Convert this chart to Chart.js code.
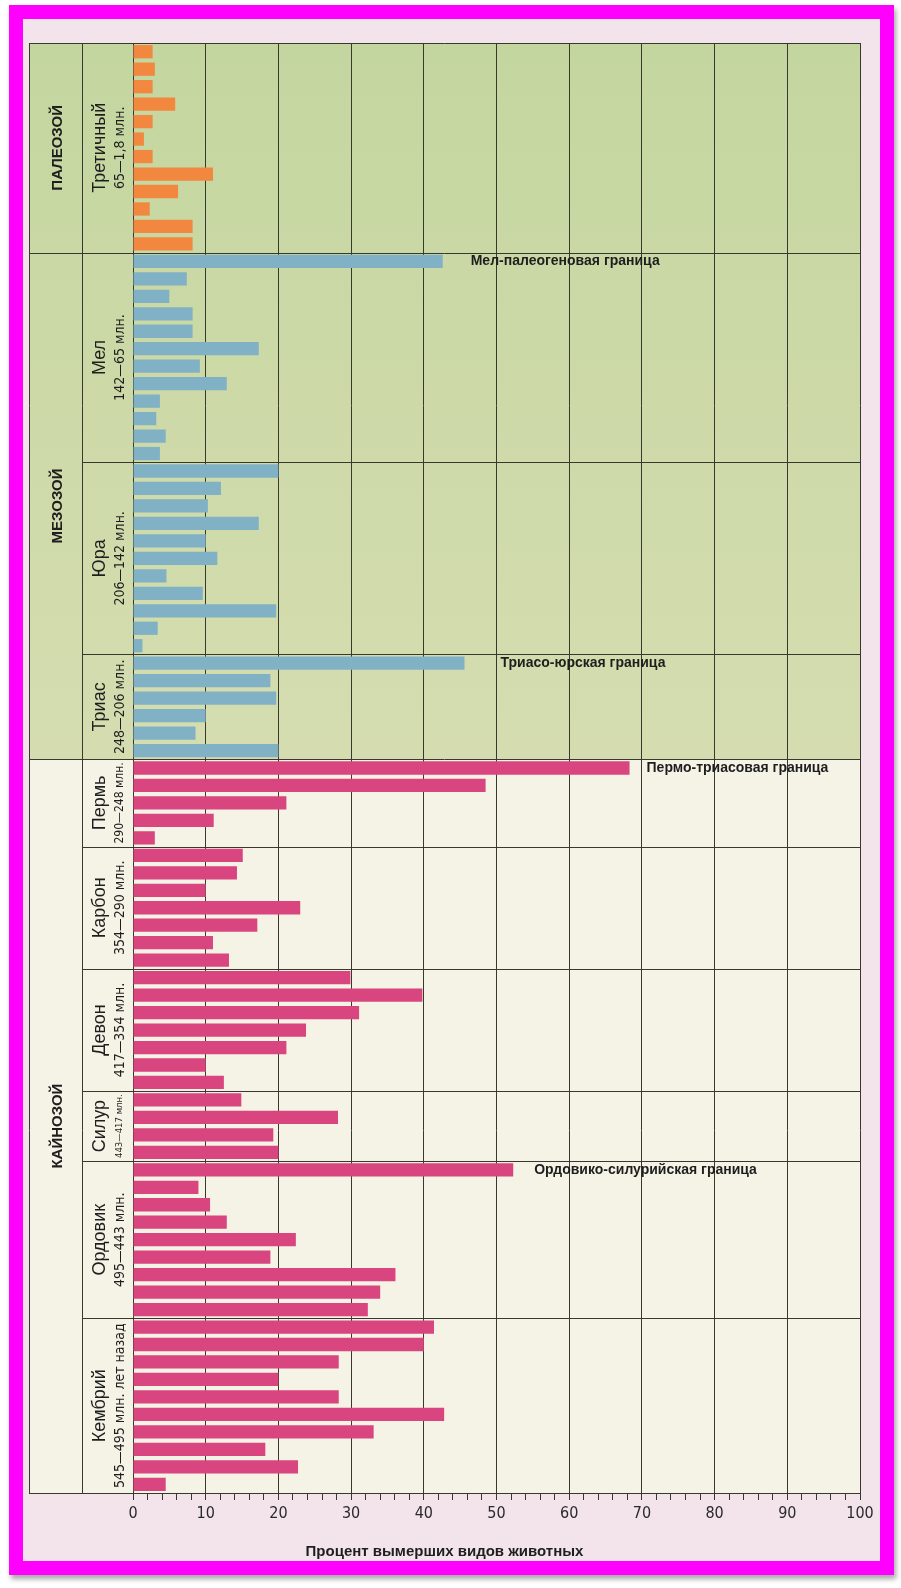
<!DOCTYPE html>
<html lang="ru">
<head>
<meta charset="utf-8">
<title>Процент вымерших видов животных</title>
<script src="https://cdn.jsdelivr.net/npm/chart.js@4.4.1/dist/chart.umd.min.js"></script>
<style>
  body { margin: 0; background: #fff; }
  #frame {
    position: absolute; left: 9px; top: 5px; width: 885px; height: 1570px;
    box-sizing: border-box; border: 14px solid #ff00ff;
    background: #f2e4ea; box-shadow: 2px 4px 5px rgba(0, 0, 0, 0.35);
  }
  #chart { position: absolute; left: 0; top: 0; }
</style>
</head>
<body>
<div id="frame"></div>
<canvas id="chart" width="901" height="1588"></canvas>
<script>
// Perioden von oben (jung) nach unten (alt)
const periods = ['Третичный', 'Мел', 'Юра', 'Триас', 'Пермь', 'Карбон', 'Девон', 'Силур', 'Ордовик', 'Кембрий'];
const periodDates = ['65—1,8 млн.', '142—65 млн.', '206—142 млн.', '248—206 млн.', '290—248 млн.',
  '354—290 млн.', '417—354 млн.', '443—417 млн.', '495—443 млн.', '545—495 млн. лет назад'];
const eras = ['ПАЛЕОЗОЙ', 'МЕЗОЗОЙ', 'КАЙНОЗОЙ'];
const eraPeriodCount = [1, 3, 6]; // wie viele perioden zu jeder ära gehören

// prozent ausgestorbener arten, ein wert pro balken
const tertiary = [2.7, 3.0, 2.7, 5.8, 2.7, 1.5, 2.7, 11.0, 6.2, 2.3, 8.2, 8.2];
const cretaceous = [42.6, 7.4, 5.0, 8.2, 8.2, 17.3, 9.2, 12.9, 3.7, 3.2, 4.5, 3.7];
const jurassic = [20.0, 12.1, 10.3, 17.3, 10.0, 11.6, 4.6, 9.6, 19.7, 3.4, 1.3];
const triassic = [45.6, 18.9, 19.7, 10.0, 8.6, 20.0];
const permian = [68.3, 48.5, 21.1, 11.1, 3.0];
const carboniferous = [15.1, 14.3, 10.0, 23.0, 17.1, 11.0, 13.2];
const devonian = [29.9, 39.8, 31.1, 23.8, 21.1, 10.0, 12.5];
const silurian = [14.9, 28.2, 19.3, 20.0];
const ordovician = [52.3, 9.0, 10.6, 12.9, 22.4, 18.9, 36.1, 34.0, 32.3];
const cambrian = [41.4, 40.0, 28.3, 20.0, 28.3, 42.8, 33.1, 18.2, 22.7, 4.5];

const xTicks = [0, 10, 20, 30, 40, 50, 60, 70, 80, 90, 100];
const xTitle = 'Процент вымерших видов животных';

// grenzen der großen aussterbeereignisse: text + periode, deren erster balken gemeint ist
const boundaryNames = ['Мел-палеогеновая граница', 'Триасо-юрская граница', 'Пермо-триасовая граница', 'Ордовико-силурийская граница'];
const boundaryPeriods = [1, 3, 4, 8];

const periodValues = [tertiary, cretaceous, jurassic, triassic, permian, carboniferous, devonian, silurian, ordovician, cambrian];
const eraColors = ['#f2873f', '#80b1c4', '#d8457f'];
const boundaryGap = [28, 36, 17, 21]; // abstand des textes vom balkenende in px
const lineColor = '#38382f';

let labels = [];
let values = [];
let colors = [];
let periodStart = []; // index des ersten balkens jeder periode

function buildData() {
  let p = 0;
  eraPeriodCount.forEach((count, e) => {
    for (let k = 0; k < count; k++, p++) {
      periodStart.push(values.length);
      periodValues[p].forEach((v, i) => {
        labels.push(periods[p] + ' ' + (i + 1));
        values.push(v);
        colors.push(eraColors[e]);
      });
    }
  });
  periodStart.push(values.length);
}


// y-pixel der grenze vor balken k
function rowEdge(chart, k) {
  const y = chart.scales.y;
  const area = chart.chartArea;
  if (k >= values.length) return area.bottom;
  const slot = (area.bottom - area.top) / values.length;
  return y.getPixelForValue(k) - slot / 2;
}


function rotatedText(ctx, text, x, y, font, size, maxLen) {
  ctx.save();
  ctx.font = font.replace('SIZE', size + 'px');
  let w = ctx.measureText(text).width;
  if (w > maxLen) { // zu lang -> schrift verkleinern
    size = size * maxLen / w;
    ctx.font = font.replace('SIZE', size + 'px');
  }
  ctx.translate(x, y);
  ctx.rotate(-Math.PI / 2);
  ctx.textAlign = 'center';
  ctx.textBaseline = 'middle';
  ctx.fillText(text, 0, 0);
  ctx.restore();
}


const tablePlugin = {
  id: 'table',
  beforeDraw(chart) {
    const ctx = chart.ctx;
    const a = chart.chartArea;
    const left = 29;
    const mesoEnd = rowEdge(chart, periodStart[4]);
    ctx.save();
    let g = ctx.createLinearGradient(0, a.top, 0, mesoEnd);
    g.addColorStop(0, '#c4d69f');
    g.addColorStop(1, '#d5ddb0');
    ctx.fillStyle = g;
    ctx.fillRect(left, a.top, a.right - left, mesoEnd - a.top);
    ctx.fillStyle = '#f5f3e6';
    ctx.fillRect(left, mesoEnd, a.right - left, a.bottom - mesoEnd);
    ctx.restore();
  },
  afterDraw(chart) {
    const ctx = chart.ctx;
    const a = chart.chartArea;
    const left = 29;
    const colX = 82;
    ctx.save();
    ctx.strokeStyle = lineColor;
    ctx.lineWidth = 1;
    ctx.beginPath();
    // rahmen links, spaltentrenner, oben und unten
    ctx.moveTo(left + 0.5, a.top); ctx.lineTo(left + 0.5, a.bottom);
    ctx.moveTo(colX + 0.5, a.top); ctx.lineTo(colX + 0.5, a.bottom);
    ctx.moveTo(left, a.top + 0.5); ctx.lineTo(a.right, a.top + 0.5);
    ctx.moveTo(left, a.bottom + 0.5); ctx.lineTo(a.right, a.bottom + 0.5);
    // trennlinien zwischen perioden (ab spalte) und ären (ganz links)
    let eraBreaks = [];
    let acc = 0;
    eraPeriodCount.forEach(c => { acc += c; eraBreaks.push(acc); });
    for (let p = 1; p < periods.length; p++) {
      const y = Math.round(rowEdge(chart, periodStart[p])) + 0.5;
      ctx.moveTo(eraBreaks.includes(p) ? left : colX, y);
      ctx.lineTo(a.right, y);
    }
    ctx.stroke();

    ctx.fillStyle = '#1e1e1e';
    // periodennamen und daten
    for (let p = 0; p < periods.length; p++) {
      const y0 = rowEdge(chart, periodStart[p]);
      const y1 = rowEdge(chart, periodStart[p + 1]);
      const mid = (y0 + y1) / 2;
      const room = y1 - y0 - 6;
      rotatedText(ctx, periods[p], 100, mid, 'SIZE "Liberation Sans", Arial, sans-serif', 18, room);
      rotatedText(ctx, periodDates[p], 120, mid, 'SIZE "Liberation Sans Narrow", "DejaVu Sans Condensed", sans-serif', 14, room);
    }
    // ären
    let p0 = 0;
    eraPeriodCount.forEach((c, e) => {
      const y0 = rowEdge(chart, periodStart[p0]);
      const y1 = rowEdge(chart, periodStart[p0 + c]);
      rotatedText(ctx, eras[e], 58, (y0 + y1) / 2, 'bold SIZE "Liberation Sans", Arial, sans-serif', 15, y1 - y0);
      p0 += c;
    });

    // beschriftung der grenzen neben dem balken
    const meta = chart.getDatasetMeta(0);
    ctx.font = 'bold 14px "Liberation Sans", Arial, sans-serif';
    ctx.textAlign = 'left';
    ctx.textBaseline = 'middle';
    boundaryNames.forEach((t, i) => {
      const bar = meta.data[periodStart[boundaryPeriods[i]]];
      ctx.fillText(t, bar.x + boundaryGap[i], bar.y);
    });

    // achsentitel mittig unter der ganzen tabelle
    ctx.font = 'bold 15px "Liberation Sans", Arial, sans-serif';
    ctx.textAlign = 'center';
    ctx.fillText(xTitle, (left + a.right) / 2, 1552);
    ctx.restore();
  }
};


function openChart() {
  buildData();
  new Chart(document.getElementById('chart'), {
    type: 'bar',
    data: {
      labels: labels,
      datasets: [{
        data: values,
        backgroundColor: colors,
        borderWidth: 0,
        barPercentage: 0.76,
        categoryPercentage: 1.0
      }]
    },
    options: {
      indexAxis: 'y',
      responsive: false,
      animation: false,
      devicePixelRatio: 1,
      layout: { padding: { left: 133, right: 41, top: 43, bottom: 65 } },
      plugins: {
        legend: { display: false },
        tooltip: { enabled: false }
      },
      scales: {
        y: { display: false },
        x: {
          min: 0,
          max: 100,
          afterFit(scale) { scale.height = 30; },
          border: { display: true, color: lineColor },
          grid: {
            color: c => (c.tick && xTicks.includes(c.tick.value)) ? lineColor : 'rgba(0,0,0,0)',
            tickColor: lineColor,
            tickLength: 7
          },
          ticks: {
            stepSize: 2,
            autoSkip: false,
            maxRotation: 0,
            padding: 4,
            color: '#2a2a2a',
            font: { family: '"Liberation Sans Narrow", "DejaVu Sans Condensed", sans-serif', size: 16 },
            callback: v => xTicks.includes(v) ? String(v) : ''
          }
        }
      }
    },
    plugins: [tablePlugin]
  });
}

openChart();
</script>
</body>
</html>
